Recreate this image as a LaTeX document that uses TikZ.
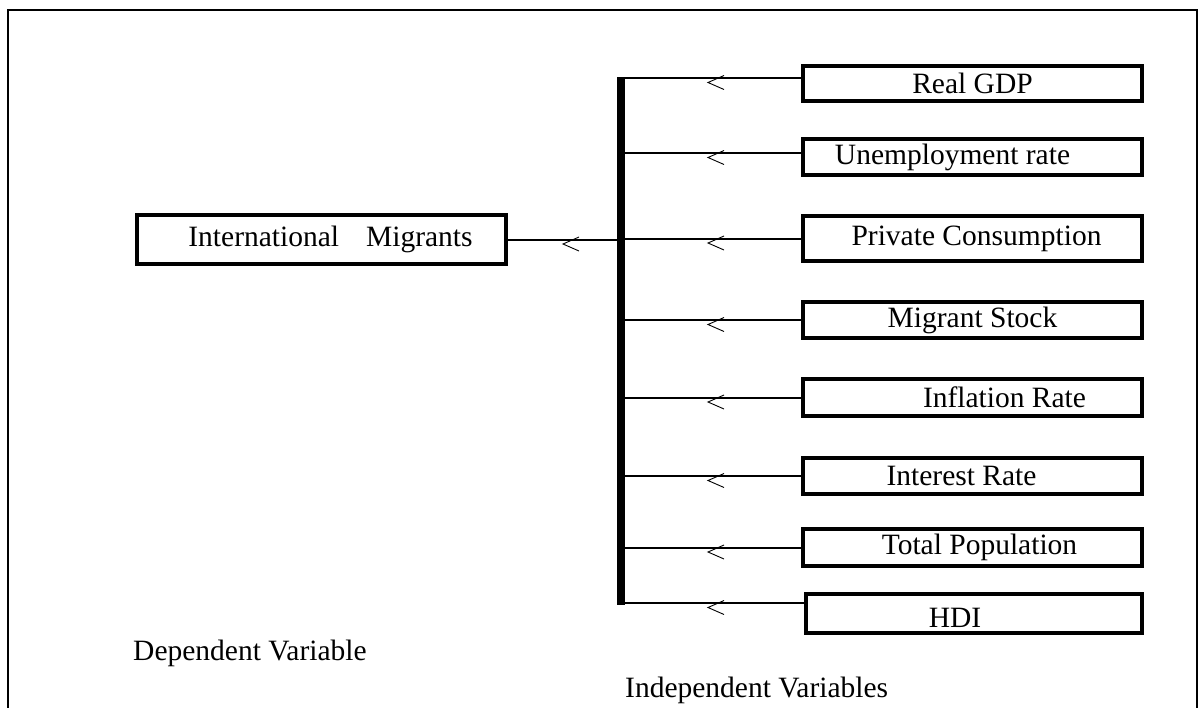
\documentclass[tikz,border=0pt]{standalone}
\usepackage{fontspec}
\setmainfont{Liberation Serif}
\begin{document}
\begin{tikzpicture}[x=1pt,y=-1pt,
  box/.style={draw, line width=4pt, inner sep=0pt, minimum width=339pt,
    font=\fontsize{29.5}{34}\selectfont},
  conn/.style={line width=2pt},
  lbl/.style={inner sep=0pt, font=\fontsize{29.5}{34}\selectfont},
  chev/.pic={\draw[line width=0.9pt] (8,-7) -- (-8,0) -- (8,7);}]
\useasboundingbox (0,0) rectangle (1201,707);
% outer frame
\draw[line width=2pt] (8,712) -- (8,10) -- (1197,10) -- (1197,712);
% dependent variable box
\node[box, minimum width=369pt, minimum height=49pt] (im) at (321.5,239.5)
  {\hspace*{18pt}International\hspace{27pt}Migrants};
% independent variable boxes
\node[box, minimum height=35pt] (gdp) at (972.5,83) {Real GDP};
\node[box, minimum height=36pt] (unem) at (972.5,157) {Unemployment rate\hspace*{40pt}};
\node[box, minimum height=45pt] (pc) at (972.5,238.5) {\hspace*{8pt}Private Consumption};
\node[box, minimum height=36pt] (ms) at (972.5,320) {Migrant Stock};
\node[box, minimum height=37pt] (inf) at (972.5,397.5) {\hspace*{64pt}Inflation Rate};
\node[box, minimum height=36pt] (int) at (972.5,476) {Interest Rate\hspace*{22pt}};
\node[box, minimum height=37pt] (tp) at (972.5,547.5) {\hspace*{14pt}Total Population};
\node[box, minimum width=336pt, minimum height=39pt, text depth=0pt] (hdi) at (974,613.5) {\raisebox{-8pt}{HDI}\hspace*{38pt}};
% vertical bar
\coordinate (bt) at (621,77);
\coordinate (bb) at (621,605);
\draw[line width=8pt] (bt) -- (bb);
% connectors
\draw[conn] (im.east) -- (im.east -| bt);
\draw[conn] ([yshift=5pt]gdp.west) -- ([yshift=5pt]gdp.west -| bt);
\draw[conn] ([yshift=4pt]unem.west) -- ([yshift=4pt]unem.west -| bt);
\draw[conn] (pc.west) -- (pc.west -| bt);
\draw[conn] (ms.west) -- (ms.west -| bt);
\draw[conn] (inf.west) -- (inf.west -| bt);
\draw[conn] (int.west) -- (int.west -| bt);
\draw[conn] (tp.west) -- (tp.west -| bt);
\draw[conn] ([yshift=10.5pt]hdi.west) -- ([yshift=10.5pt]hdi.west -| bt);
% chevrons
\pic at (571,244) {chev};
\foreach \yy in {78,153,238.5,320,397.5,476,547.5,603} {
  \pic at (716,\yy+4.5) {chev};
}
% captions
\node[lbl, anchor=base west] (dep) at (133,660) {Dependent Variable};
\node[lbl, anchor=base west] (indep) at (625,697) {Independent Variables};
\end{tikzpicture}
\end{document}
